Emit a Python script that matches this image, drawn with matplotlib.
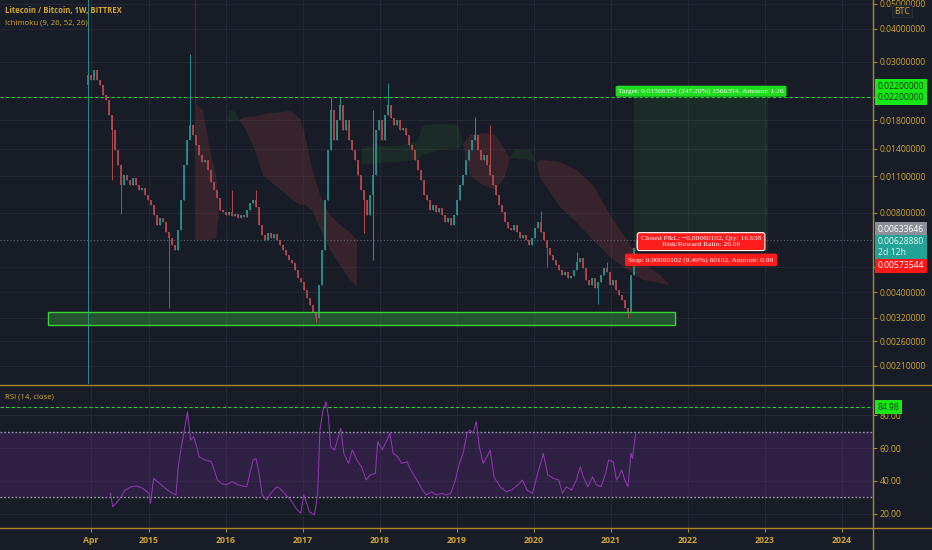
import matplotlib

matplotlib.use("Agg")

import matplotlib.pyplot as plt
import numpy as np
from matplotlib.lines import Line2D
from matplotlib.patches import Rectangle
from matplotlib.ticker import FixedLocator, FuncFormatter, NullLocator

# ----------------------------------------------------------------------
# data (LTC/BTC; roughly two-week closes)
# ----------------------------------------------------------------------
CANDLE_START = 2014.208
CANDLE_END = 2021.338
FIRST_OPEN = 0.0245
CLOSES = [
    0.0267, 0.0256, 0.0279, 0.0256, 0.0245, 0.0224, 0.0215, 0.0188, 0.0165, 0.0139,
    0.0122, 0.0102, 0.0111, 0.0107, 0.0102, 0.0109, 0.0102, 0.00978, 0.00995, 0.00936,
    0.00896, 0.00858, 0.00786, 0.00720, 0.00765, 0.00739, 0.00677, 0.00643, 0.00604, 0.00579,
    0.00689, 0.00896, 0.0122, 0.0151, 0.0172, 0.0158, 0.0145, 0.0133, 0.0125, 0.0127,
    0.0116, 0.0105, 0.00978, 0.00912, 0.00821, 0.00807, 0.00786, 0.00807, 0.00779, 0.00793,
    0.00765, 0.00786, 0.00772, 0.00821, 0.00873, 0.00896, 0.00843, 0.00720, 0.00660, 0.00631,
    0.00671, 0.00643, 0.00666, 0.00631, 0.00604, 0.00579, 0.00554, 0.00530, 0.00516, 0.00486,
    0.00453, 0.00437, 0.00408, 0.00380, 0.00357, 0.00336, 0.00319, 0.00426, 0.00579, 0.00896,
    0.0139, 0.0197, 0.0151, 0.0180, 0.0205, 0.0165, 0.0180, 0.0151, 0.0139, 0.0127,
    0.0111, 0.00978, 0.00896, 0.00786, 0.00936, 0.0111, 0.0165, 0.0180, 0.0151, 0.0188,
    0.0205, 0.0183, 0.0172, 0.0180, 0.0165, 0.0168, 0.0158, 0.0145, 0.0139, 0.0127,
    0.0116, 0.0107, 0.00936, 0.00896, 0.00821, 0.00858, 0.00807, 0.00836, 0.00786, 0.00739,
    0.00765, 0.00720, 0.00786, 0.00896, 0.0102, 0.0111, 0.0127, 0.0139, 0.0151, 0.0158,
    0.0139, 0.0127, 0.0133, 0.0122, 0.0111, 0.0102, 0.00936, 0.00858, 0.00807, 0.00739,
    0.00701, 0.00689, 0.00720, 0.00677, 0.00643, 0.00660, 0.00631, 0.00604, 0.00643, 0.00701,
    0.00739, 0.00677, 0.00631, 0.00589, 0.00554, 0.00530, 0.00507, 0.00486, 0.00465, 0.00478,
    0.00453, 0.00461, 0.00486, 0.00521, 0.00540, 0.00494, 0.00445, 0.00426, 0.00453, 0.00415,
    0.00437, 0.00465, 0.00494, 0.00478, 0.00426, 0.00445, 0.00408, 0.00390, 0.00373, 0.00348,
    0.00336, 0.00465, 0.00589, 0.00629,
]
HIGH_IDX = [0, 34, 48, 56, 81, 84, 95, 100, 129, 134, 151, 163, 173]
HIGH_VAL = [0.06, 0.0321, 0.00978, 0.0098, 0.0220, 0.0220, 0.0197, 0.0249, 0.0185,
            0.0172, 0.0081, 0.0057, 0.0052]
LOW_IDX = [0, 8, 11, 27, 76, 92, 95, 153, 170, 180]
LOW_VAL = [0.0015, 0.0107, 0.0079, 0.00348, 0.00307, 0.0067, 0.0053, 0.0050, 0.0036,
           0.00319]

# Ichimoku cloud (leading spans A / B); NaN breaks the cloud
CLOUD_X = [
    2015.597, 2015.701, 2015.792, 2015.870, 2015.909, 2016.000, 2016.052, 2016.130,
    2016.169, 2016.247, 2016.377, 2016.481, 2016.636, 2016.831, 2016.961, 2017.026,
    2017.117, 2017.221, 2017.351, 2017.481, 2017.610, 2017.701, 2017.727,
    2017.766, 2018.000, 2018.260, 2018.494, 2018.558, 2018.779, 2019.013, 2019.078,
    2019.169, 2019.338, 2019.494, 2019.623, 2019.688, 2019.753, 2019.948, 2020.039,
    2020.078, 2020.338, 2020.558, 2020.766, 2020.987, 2021.208, 2021.416, 2021.636, 2021.740,
]
SPAN_A = [
    0.00631, 0.00631, 0.00631, 0.00643, 0.00786, 0.0183, 0.0197, 0.0193,
    0.0180, 0.0168, 0.0139, 0.0111, 0.0102, 0.00912, 0.00858, 0.00858,
    0.00821, 0.00701, 0.00579, 0.00507, 0.00445, 0.00419, np.nan,
    0.0143, 0.0143, 0.0144, 0.0151, 0.0172, 0.0175, 0.0172, 0.0146,
    0.0111, 0.0102, 0.00978, 0.0109, 0.0129, 0.0139, 0.0139, 0.0124,
    0.0109, 0.00843, 0.00733, 0.00631, 0.00544, 0.00486, 0.00445, 0.00433, 0.00426,
]
SPAN_B = [
    0.0209, 0.0197, 0.0139, 0.0111, 0.00786, 0.0183, 0.0177, 0.0180,
    0.0180, 0.0185, 0.0186, 0.0190, 0.0192, 0.0195, 0.0183, 0.0158,
    0.0118, 0.00936, 0.00786, 0.00720, 0.00677, 0.00631, np.nan,
    0.0122, 0.0124, 0.0125, 0.0127, 0.0133, 0.0139, 0.0141, 0.0146,
    0.0158, 0.0161, 0.0158, 0.0139, 0.0129, 0.0129, 0.0127, 0.0124,
    0.0127, 0.0125, 0.0116, 0.0102, 0.00786, 0.00631, 0.00516, 0.00465, 0.00433,
]

RSI_DATES = [
    2014.50, 2014.53, 2014.61, 2014.69, 2014.77, 2014.84, 2014.92, 2015.00, 2015.02, 2015.06,
    2015.11, 2015.19, 2015.27, 2015.35, 2015.38, 2015.42, 2015.46, 2015.50, 2015.54, 2015.58,
    2015.62, 2015.65, 2015.73, 2015.81, 2015.89, 2015.94, 2016.00, 2016.08, 2016.16, 2016.27,
    2016.35, 2016.39, 2016.43, 2016.47, 2016.53, 2016.58, 2016.66, 2016.70, 2016.76, 2016.84,
    2016.91, 2016.97, 2017.01, 2017.05, 2017.08, 2017.15, 2017.19, 2017.22, 2017.26, 2017.30,
    2017.33, 2017.36, 2017.41, 2017.46, 2017.49, 2017.53, 2017.59, 2017.64, 2017.70, 2017.76,
    2017.82, 2017.87, 2017.94, 2017.97, 2018.03, 2018.09, 2018.13, 2018.17, 2018.23, 2018.28,
    2018.35, 2018.40, 2018.48, 2018.54, 2018.60, 2018.67, 2018.73, 2018.80, 2018.86, 2018.92,
    2018.98, 2019.03, 2019.08, 2019.13, 2019.17, 2019.21, 2019.25, 2019.29, 2019.34, 2019.39,
    2019.43, 2019.48, 2019.56, 2019.64, 2019.71, 2019.79, 2019.85, 2019.91, 2019.98, 2020.06,
    2020.10, 2020.12, 2020.18, 2020.25, 2020.32, 2020.37, 2020.42, 2020.49, 2020.55, 2020.60,
    2020.64, 2020.70, 2020.76, 2020.81, 2020.87, 2020.93, 2020.97, 2021.03, 2021.07, 2021.10,
    2021.14, 2021.18, 2021.22, 2021.26, 2021.28, 2021.32,
]
RSI_VALUES = [
    32.5, 24.4, 28.5, 34.5, 36.5, 37.0, 35.5, 32.5, 26.5, 41.6,
    39.6, 36.5, 33.5, 31.5, 48.7, 60.8, 70.9, 82.0, 64.8, 66.9,
    60.8, 54.7, 52.7, 51.7, 40.6, 38.6, 37.6, 39.6, 37.6, 36.5,
    52.7, 53.7, 44.6, 31.5, 28.5, 32.5, 36.5, 35.5, 32.5, 28.5,
    23.4, 20.4, 31.5, 26.5, 21.4, 19.4, 32.5, 70.9, 83.0, 88.1,
    79.0, 60.8, 58.8, 66.9, 71.9, 56.8, 50.7, 58.8, 52.7, 48.7,
    40.6, 43.6, 44.6, 63.8, 58.8, 64.8, 68.9, 56.8, 54.7, 50.7,
    51.7, 46.7, 40.6, 35.5, 31.5, 33.5, 31.5, 32.5, 31.5, 32.5,
    40.6, 50.7, 56.8, 68.9, 70.9, 68.9, 76.0, 60.8, 50.7, 54.7,
    58.8, 42.6, 36.5, 33.5, 34.5, 37.6, 40.6, 34.5, 32.5, 46.7,
    52.7, 56.8, 43.6, 41.6, 40.6, 32.5, 36.5, 34.5, 40.6, 48.7,
    42.6, 36.5, 42.6, 37.6, 36.5, 44.6, 52.7, 51.7, 40.6, 42.6,
    46.7, 40.6, 36.5, 56.8, 53.7, 68.9,
]
RSI_MAX = 84.98

PRICE_TICKS = [0.05, 0.04, 0.03, 0.022, 0.018, 0.014, 0.011, 0.008, 0.005,
               0.004, 0.0032, 0.0026, 0.0021]
RSI_TICKS = [20, 40, 60, 80]
X_TICKS = [2014.25, 2015, 2016, 2017, 2018, 2019, 2020, 2021, 2022, 2023, 2024]
X_LABELS = ["Apr", "2015", "2016", "2017", "2018", "2019", "2020", "2021",
            "2022", "2023", "2024"]

# long position tool
ENTRY = 0.00633646
TARGET = 0.022
STOP = 0.00573544
LAST = 0.0062888
TOOL_START, TOOL_END = 2021.30, 2023.04
SUPPORT_START, SUPPORT_END = 2013.69, 2021.83
SUPPORT_LOW, SUPPORT_HIGH = 0.002995, 0.00336

# ----------------------------------------------------------------------
# style
# ----------------------------------------------------------------------
BG = "#181c27"
GRID = "#252935"
GOLD = "#cfa52f"
GOLD_LINE = "#a7892d"
UP = "#2b8f87"
DOWN = "#b3474a"
W, H = 932, 550

plt.rcParams["font.family"] = ["Open Sans", "DejaVu Sans"]


def fx(px):
    return px / W


def fy(py):
    return 1 - py / H


fig = plt.figure(figsize=(W / 100, H / 100), dpi=100, facecolor=BG)
ax = fig.add_axes([0, fy(384), fx(873), 384 / H], facecolor=BG)
rsi = fig.add_axes([0, fy(528), fx(873), (528 - 386) / H], facecolor=BG)

for a in (ax, rsi):
    a.set_xlim(2013.065, 2024.403)
    for s in a.spines.values():
        s.set_visible(False)
    a.xaxis.set_major_locator(FixedLocator(X_TICKS))
    a.grid(True, color=GRID, lw=0.7)
    a.set_axisbelow(True)
    a.yaxis.tick_right()
    a.tick_params(axis="y", colors=GOLD_LINE, labelcolor=GOLD, length=3,
                  width=0.8, labelsize=6.2, pad=2)

# ---------------- price pane ----------------
ax.set_yscale("log")
ax.set_ylim(0.001788, 0.05156)
ax.yaxis.set_major_locator(FixedLocator(PRICE_TICKS))
ax.yaxis.set_minor_locator(NullLocator())
# 0.005 has only a grid line, its label sits under the stop badge
ax.yaxis.set_major_formatter(FuncFormatter(
    lambda v, _: "" if v in (0.005, 0.022) else f"{v:.8f}"))
ax.tick_params(axis="x", length=0, labelbottom=False)

# ichimoku cloud
cx = np.array(CLOUD_X)
sa = np.array(SPAN_A)
sb = np.array(SPAN_B)
ax.fill_between(cx, sa, sb, where=sa >= sb, interpolate=True,
                color="#2e7d32", alpha=0.16, lw=0)
ax.fill_between(cx, sa, sb, where=sb >= sa, interpolate=True,
                color="#a83c3a", alpha=0.22, lw=0)
ax.vlines(cx[0], sb[0], 0.06, color="#a83c3a", alpha=0.3, lw=1)

# support box
ax.add_patch(Rectangle((SUPPORT_START, SUPPORT_LOW), SUPPORT_END - SUPPORT_START,
                       SUPPORT_HIGH - SUPPORT_LOW, facecolor="#2f8a36",
                       alpha=0.5, lw=0, zorder=2))
ax.add_patch(Rectangle((SUPPORT_START, SUPPORT_LOW), SUPPORT_END - SUPPORT_START,
                       SUPPORT_HIGH - SUPPORT_LOW, facecolor="none",
                       edgecolor="#3ccf3c", lw=1, zorder=4))

# position tool zones
ax.add_patch(Rectangle((TOOL_START, ENTRY), TOOL_END - TOOL_START, TARGET - ENTRY,
                       facecolor="#2e7d32", alpha=0.17, lw=0, zorder=1))
ax.add_patch(Rectangle((TOOL_START, STOP), TOOL_END - TOOL_START, ENTRY - STOP,
                       facecolor="#c62828", alpha=0.2, lw=0, zorder=1))

ax.axhline(TARGET, color="#27c927", ls=(0, (3, 2)), lw=0.8, zorder=3)
ax.axhline(LAST, color="#5d6471", ls=(0, (1, 2)), lw=0.8, zorder=3)

# candles
closes = np.array(CLOSES)
dates = np.linspace(CANDLE_START, CANDLE_END, len(closes))
opens = np.r_[FIRST_OPEN, closes[:-1]]
highs = np.maximum(opens, closes)
lows = np.minimum(opens, closes)
highs[HIGH_IDX] = np.maximum(highs[HIGH_IDX], HIGH_VAL)
lows[LOW_IDX] = np.minimum(lows[LOW_IDX], LOW_VAL)
up = closes >= opens
for mask, col in ((up, UP), (~up, DOWN)):
    ax.vlines(dates[mask], lows[mask], highs[mask], color=col, lw=0.7, zorder=3)
    ax.vlines(dates[mask], np.minimum(opens, closes)[mask],
              np.maximum(opens, closes)[mask], color=col, lw=1.3, zorder=3)

# position tool labels
mid = (TOOL_START + TOOL_END) / 2
lab = dict(family=["Liberation Serif", "DejaVu Serif"], fontsize=5.4,
           color="white", ha="center", va="center", zorder=6)
ax.text(mid, 0.0232, "Target: 0.01566354 (247.20%) 1566354, Amount: 1.26",
        bbox=dict(boxstyle="round,pad=0.35,rounding_size=0.25",
                  fc="#1fdc1f", ec="none"), **lab)
ax.text(mid, 0.00622, "Closed P&L: \u22120.00060102, Qty: 16.638\nRisk/Reward Ratio: 26.06",
        linespacing=1.1,
        bbox=dict(boxstyle="round,pad=0.5,rounding_size=0.3",
                  fc="#ff1c1c", ec="white", lw=0.8), **lab)
ax.text(mid, 0.0053, "Stop: 0.00060102 (9.49%) 60102, Amount: 0.99",
        bbox=dict(boxstyle="round,pad=0.45,rounding_size=0.25",
                  fc="#ff1c1c", ec="none"), **lab)

# ---------------- RSI pane ----------------
rsi.set_ylim(11.5, 97.6)
rsi.yaxis.set_major_locator(FixedLocator(RSI_TICKS))
rsi.yaxis.set_major_formatter(FuncFormatter(lambda v, _: f"{v:.2f}"))
rsi.set_xticklabels(X_LABELS)
rsi.tick_params(axis="x", colors=GOLD_LINE, labelcolor=GOLD, length=3,
                width=0.8, labelsize=6.3, pad=3)
for t in rsi.get_xticklabels():
    t.set_fontweight("bold")
rsi.axhspan(30, 70, color="#7b2fa8", alpha=0.22, lw=0)
for lvl in (30, 70):
    rsi.axhline(lvl, color="#9a9cab", ls=(0, (1.2, 1.5)), lw=1)
rsi.axhline(RSI_MAX, color="#2bd12b", ls=(0, (3, 2)), lw=0.8)
rsi.plot(RSI_DATES, RSI_VALUES, color="#9235b2", lw=0.75)

# ---------------- frame lines ----------------
for y in (385, 528):
    fig.add_artist(Line2D([0, 1], [fy(y)] * 2, color=GOLD_LINE, lw=1))
fig.add_artist(Line2D([fx(873)] * 2, [0, 1], color=GOLD_LINE, lw=1))

# ---------------- texts ----------------
fig.text(fx(5), fy(11), "Litecoin / Bitcoin, 1W, BITTREX", color=GOLD,
         fontsize=5.6, fontweight="bold", va="center")
fig.text(fx(5), fy(23), "Ichimoku (9, 26, 52, 26)", color=GOLD,
         fontsize=5.6, va="center")
fig.text(fx(5), fy(397), "RSI (14, close)", color=GOLD, fontsize=5.6, va="center")
fig.text(fx(902), fy(11), "BTC", color=GOLD, fontsize=6.2, ha="center", va="center",
         zorder=10,
         bbox=dict(boxstyle="square,pad=0.2", fc="#1e222d", ec="#2c303c", lw=0.6))

badge = dict(fontsize=6.2, ha="left", va="center")
fig.text(fx(878), fy(92), "0.02200000\n0.02200000", color="#0b3b0b", linespacing=1.35,
         bbox=dict(boxstyle="square,pad=0.3", fc="#17e617", ec="none"), **badge)
fig.text(fx(878), fy(229), "0.00633646", color="white",
         bbox=dict(boxstyle="square,pad=0.3", fc="#8c8f98", ec="none"), **badge)
fig.text(fx(878), fy(247), "0.00628880\n2d 12h", color="#e6f5f3", linespacing=1.25,
         bbox=dict(boxstyle="square,pad=0.3", fc="#22a396", ec="none"), **badge)
fig.text(fx(878), fy(266), "0.00573544", color="white",
         bbox=dict(boxstyle="square,pad=0.3", fc="#ff1616", ec="none"), **badge)
fig.text(fx(878), fy(407), "84.98", color="#0b3b0b",
         bbox=dict(boxstyle="square,pad=0.3", fc="#17e617", ec="none"), **badge)

fig.savefig("out.png", dpi=100, facecolor=BG)
